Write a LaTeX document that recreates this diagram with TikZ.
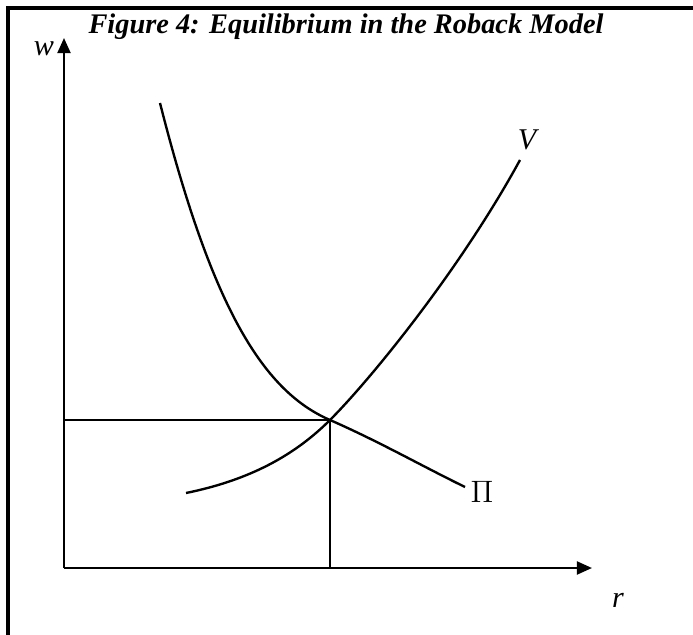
\documentclass[tikz,border=0pt]{standalone}
\usepackage{fontspec}
\setmainfont{Liberation Serif}
\usetikzlibrary{arrows.meta,positioning}

\tikzset{
  axisline/.style={line width=1.1pt,-{Triangle[length=7pt,width=6pt]}},
  curveline/.style={line width=1.1pt},
  frameline/.style={line width=1.4pt},
  lbl/.style={font=\fontsize{14}{16}\selectfont, inner sep=0pt}
}

\begin{document}
\begin{tikzpicture}[x=0.465pt,y=-0.465pt]
    \useasboundingbox (0,0) rectangle (693,635);

    % Frame, cut off at right and bottom
    \draw[frameline] (8,650) -- (8,8) -- (710,8);

    % Title
    \node[font=\bfseries\itshape\fontsize{13.2}{16}\selectfont] (title) at (346,27)
        {Figure 4: Equilibrium in the Roback Model};

    % Axes
    \coordinate (o) at (64,568);
    \coordinate (wtop) at (64,38);
    \coordinate (rend) at (592,568);
    \draw[axisline] (o) -- (wtop);
    \draw[axisline] (o) -- (rend);
    \node[lbl] (w) at (44,49) {\itshape w};
    \node[lbl] (r) at (618,600) {\itshape r};

    % Equilibrium point and guide lines
    \coordinate (eq) at (330,420);
    \coordinate (eqw) at (64,420);
    \coordinate (eqr) at (330,568);
    \draw[curveline] (eqw) -- (eq) -- (eqr);

    % Pi curve
    \draw[curveline] (160,103) .. controls (210,300) and (260,390) .. (eq)
        .. controls (380,442) and (420,465) .. (465,487);
    \node[lbl] (pi) at (482,492) {$\Pi$};

    % V curve
    \draw[curveline] (186,493) .. controls (250,480) and (295,455) .. (eq)
        .. controls (370,380) and (460,270) .. (520,160);
    \node[lbl] (v) at (527,140) {\itshape V};
\end{tikzpicture}
\end{document}
